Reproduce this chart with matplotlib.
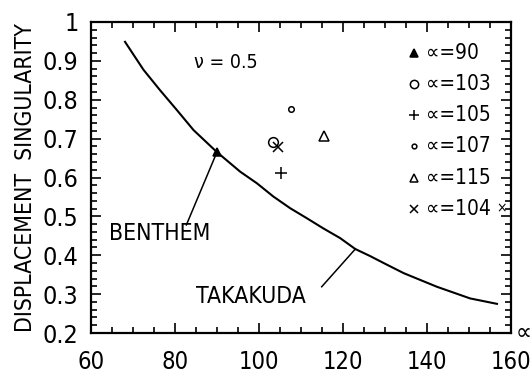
import matplotlib
matplotlib.use('Agg')
import matplotlib.pyplot as plt
from matplotlib.ticker import MultipleLocator

# narrow lettering like the plotter font, if a condensed face exists
plt.rcParams['font.family'] = ['DejaVu Sans']
plt.rcParams['font.stretch'] = 'condensed'

# Takakuda curve
curve_x = [68.1, 72.5, 76.4, 80.4, 84.4, 89.9, 95.5, 99.5, 103.4, 107.4, 111.4,
           115.3, 119.3, 122.9, 126.4, 130.0, 134.4, 142.3, 150.2, 156.6]
curve_y = [0.949, 0.877, 0.825, 0.774, 0.722, 0.666, 0.615, 0.585, 0.551, 0.521, 0.495,
           0.469, 0.444, 0.416, 0.398, 0.378, 0.354, 0.319, 0.289, 0.275]

# measured points
pt_labels = ['90', '103', '105', '107', '115', '104']
pt_x = [90, 103.2, 105.3, 107.5, 115.4, 104.4]
pt_y = [0.666, 0.692, 0.612, 0.776, 0.707, 0.679]
pt_marks = ['^', 'o', '+', 'o', '^', 'x']
pt_fill = ['black', 'none', 'none', 'none', 'none', 'none']
pt_size = [6, 7, 8, 4, 7, 7]

fig = plt.figure(figsize=(5.32, 3.74), dpi=100)
ax = fig.add_axes([0.171, 0.1096, 0.79, 0.8316])

ax.plot(curve_x, curve_y, color='black', lw=1.5)

for x, y, m, f, s in zip(pt_x, pt_y, pt_marks, pt_fill, pt_size):
    ax.plot(x, y, marker=m, ms=s, mfc=f, mec='black', color='black', mew=1.1, ls='none')

# legend drawn by hand like the original
leg_y = [0.92, 0.84, 0.76, 0.68, 0.60, 0.52]
for lab, m, f, s, y in zip(pt_labels, pt_marks, pt_fill, pt_size, leg_y):
    ax.plot(136.8, y, marker=m, ms=s * 0.85, mfc=f, mec='black', color='black', mew=1.1, ls='none')
    ax.text(139.8, y, '\u221d=' + lab, fontsize=15, va='center', ha='left')
ax.text(157.6, leg_y[-1], '\u00d7', fontsize=10, va='center', ha='center')

ax.text(84.5, 0.897, '\u03bd = 0.5', fontsize=14, va='center', ha='left')

# annotations
ax.plot([90, 82.7], [0.666, 0.478], color='black', lw=1.1)
ax.text(64.3, 0.455, 'BENTHEM', fontsize=16.5, va='center', ha='left')
ax.plot([122.9, 114.9], [0.416, 0.319], color='black', lw=1.1)
ax.text(85.0, 0.293, 'TAKAKUDA', fontsize=16.5, va='center', ha='left')

ax.set_xlim(60, 160)
ax.set_ylim(0.2, 1.0)
ax.xaxis.set_major_locator(MultipleLocator(20))
ax.xaxis.set_minor_locator(MultipleLocator(5))
ax.yaxis.set_minor_locator(MultipleLocator(0.02))
ax.set_yticks([0.2, 0.3, 0.4, 0.5, 0.6, 0.7, 0.8, 0.9, 1.0])
ax.set_yticklabels(['0.2', '0.3', '0.4', '0.5', '0.6', '0.7', '0.8', '0.9', '1'])
ax.tick_params(which='both', direction='in', top=True, right=True, width=1.2)
ax.tick_params(which='major', length=7)
ax.tick_params(which='minor', length=4)
ax.tick_params(axis='x', labelsize=17, pad=12)
ax.tick_params(axis='y', labelsize=18, pad=9)
for sp in ax.spines.values():
    sp.set_linewidth(1.6)

ax.set_ylabel('DISPLACEMENT  SINGULARITY', fontsize=16.5, labelpad=4)
ax.text(1.03, 0.0, '\u221d', transform=ax.transAxes, fontsize=18, va='center', ha='center')

fig.savefig('out.png', dpi=100)
